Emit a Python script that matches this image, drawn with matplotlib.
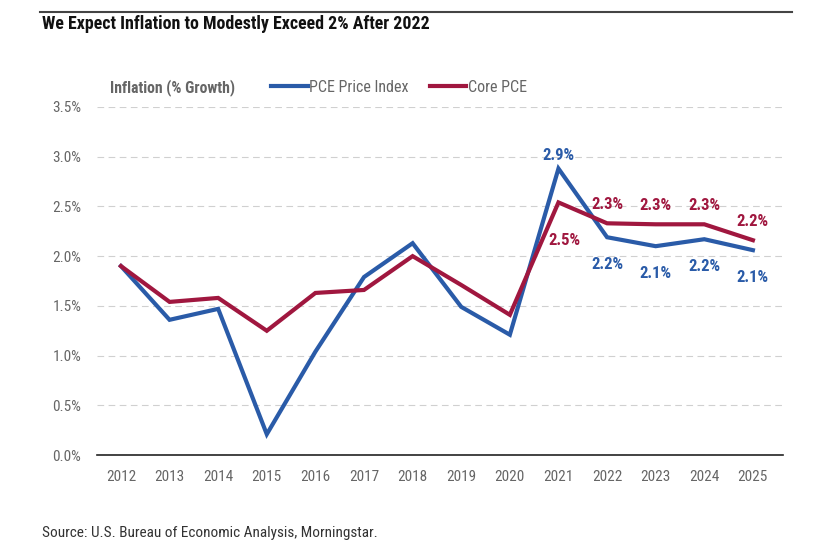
import numpy as np
from matplotlib import pyplot as plt
from matplotlib.lines import Line2D

years = list(range(2012, 2026))
pce = [1.90, 1.36, 1.47, 0.21, 1.04, 1.79, 2.13, 1.49, 1.21, 2.88, 2.19, 2.10, 2.17, 2.06]
core = [1.90, 1.54, 1.58, 1.25, 1.63, 1.66, 2.00, 1.71, 1.41, 2.54, 2.33, 2.32, 2.32, 2.16]
pce_labels = {2021: '2.9%', 2022: '2.2%', 2023: '2.1%', 2024: '2.2%', 2025: '2.1%'}
core_labels = {2021: '2.5%', 2022: '2.3%', 2023: '2.3%', 2024: '2.3%', 2025: '2.2%'}
yticks = [0, 0.5, 1.0, 1.5, 2.0, 2.5, 3.0, 3.5]

plt.rcParams['font.family'] = ['Roboto Condensed', 'DejaVu Sans']

blue = '#2a5ba8'
red = '#a0173f'
gray = '#666666'

fig = plt.figure(figsize=(8.26, 5.51), dpi=100)
ax = fig.add_axes([0.117, 0.174, 0.831, 0.632])

ax.plot(years, pce, color=blue, lw=3, solid_joinstyle='miter')
ax.plot(years, core, color=red, lw=3, solid_joinstyle='miter')

# data labels: PCE above at 2021 and below after, Core the other way round
for yr, v in zip(years, pce):
    if yr in pce_labels:
        dy, va = (4, 'bottom') if yr == 2021 else (-14, 'top')
        ax.annotate(pce_labels[yr], (yr, v), xytext=(0, dy), textcoords='offset points',
                    ha='center', va=va, color=blue, fontsize=12, fontweight='bold')
for yr, v in zip(years, core):
    if yr in core_labels:
        dy, va = (-22, 'top') if yr == 2021 else (8, 'bottom')
        dx = 4 if yr == 2021 else 0
        ax.annotate(core_labels[yr], (yr, v), xytext=(dx, dy), textcoords='offset points',
                    ha='center', va=va, color=red, fontsize=12, fontweight='bold')

ax.set_xlim(2011.5, 2025.62)
ax.set_ylim(0, 3.5)
ax.set_xticks(years)
ax.set_xticklabels([str(y) for y in years])
ax.set_yticks(yticks)
ax.set_yticklabels(['%.1f%%' % t for t in yticks])
ax.tick_params(length=0, colors=gray, labelsize=11)
ax.tick_params(axis='x', pad=11)
ax.tick_params(axis='y', pad=11)
ax.grid(axis='y', color='#d0d0d0', ls=(0, (6, 4)), lw=0.8)
ax.set_axisbelow(True)
for s in ['top', 'right', 'left']:
    ax.spines[s].set_visible(False)
ax.spines['bottom'].set_color('#222222')
ax.spines['bottom'].set_linewidth(1.2)

fig.add_artist(Line2D([0.048, 0.959], [0.978, 0.978], color='#444444', lw=1.5))
fig.text(0.051, 0.956, 'We Expect Inflation to Modestly Exceed 2% After 2022',
         fontsize=12.9, fontweight='bold', color='#111111', va='center')
fig.text(0.133, 0.842, 'Inflation (% Growth)', fontsize=11.3, fontweight='bold', color=gray, va='center')
handles = [Line2D([], [], color=blue, lw=3), Line2D([], [], color=red, lw=3)]
fig.legend(handles, ['PCE Price Index', 'Core PCE'], loc='center left',
           bbox_to_anchor=(0.328, 0.842), ncol=2, frameon=False, fontsize=11.5,
           handlelength=2.3, handletextpad=0.1, columnspacing=1.3, labelcolor=gray,
           borderaxespad=0, borderpad=0)
fig.text(0.051, 0.033, 'Source: U.S. Bureau of Economic Analysis, Morningstar.',
         fontsize=11, color='#333333', va='center')

plt.savefig('out.png', dpi=100)
